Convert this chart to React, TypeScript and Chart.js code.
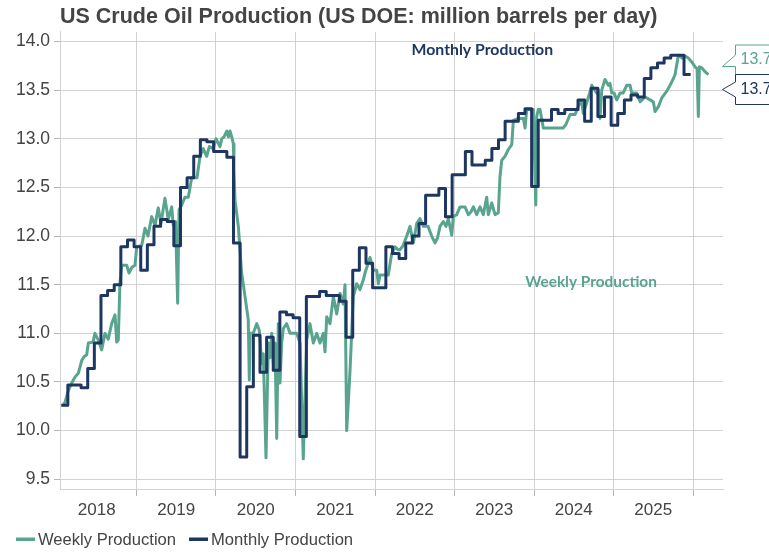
import React, { useEffect, useRef } from "react";
import { Chart, registerables } from "chart.js";

Chart.register(...registerables);

const TITLE = "US Crude Oil Production (US DOE: million barrels per day)";
const WEEKLY_NAME = "Weekly Production";
const MONTHLY_NAME = "Monthly Production";
const GREEN = "#59a48e";
const NAVY = "#1d3762";
const TEXT = "#444444";
const GRID = "#d2d2d2";

// x axis: year boundaries (grid lines) and year labels (centred in each year)
const yearBoundaries = [2019, 2020, 2021, 2022, 2023, 2024, 2025, 2026];
const yearLabels = ["2018", "2019", "2020", "2021", "2022", "2023", "2024", "2025"];
const yTickValues = [9.5, 10.0, 10.5, 11.0, 11.5, 12.0, 12.5, 13.0, 13.5, 14.0];

// Monthly production, Feb 2018 .. Dec 2025 (million b/d)
const monthlyFirstYear = 2018;
const monthlyFirstMonth = 2; // February
const monthlyValues = [
  // 2018 Feb-Dec
  10.26, 10.47, 10.47, 10.44, 10.64, 10.9, 11.39, 11.44, 11.5, 11.89, 11.96,
  // 2019
  11.89, 11.65, 11.91, 12.1, 12.17, 12.15, 11.9, 12.5, 12.6, 12.82, 12.99, 12.97,
  // 2020
  12.87, 12.87, 12.81, 11.93, 9.73, 10.45, 10.98, 10.6, 10.96, 10.62, 11.22, 11.19,
  // 2021
  11.16, 9.94, 11.38, 11.38, 11.43, 11.39, 11.39, 11.33, 10.96, 11.65, 11.88, 11.72,
  // 2022
  11.47, 11.47, 11.89, 11.82, 11.77, 11.93, 12.0, 12.13, 12.42, 12.42, 12.49, 12.2,
  // 2023
  12.63, 12.63, 12.87, 12.73, 12.73, 12.78, 12.9, 12.99, 13.18, 13.18, 13.26, 13.31,
  // 2024
  12.51, 13.19, 13.19, 13.3, 13.26, 13.3, 13.3, 13.4, 13.18, 13.52, 13.23, 13.43,
  // 2025
  13.14, 13.26, 13.4, 13.45, 13.43, 13.62, 13.73, 13.78, 13.83, 13.86, 13.86, 13.66,
];

// Weekly production (dates as decimal years)
const weeklyDates = [
  2018.082, 2018.101, 2018.138, 2018.185, 2018.226, 2018.268, 2018.289, 2018.311, 2018.34, 2018.374,
  2018.394, 2018.453, 2018.478, 2018.52, 2018.562, 2018.604, 2018.645, 2018.688, 2018.73, 2018.751,
  2018.771, 2018.792, 2018.814, 2018.877, 2018.906, 2018.943, 2018.981, 2019.003, 2019.065, 2019.107,
  2019.145, 2019.191, 2019.233, 2019.274, 2019.308, 2019.358, 2019.4, 2019.443, 2019.463, 2019.491,
  2019.518, 2019.535, 2019.569, 2019.61, 2019.652, 2019.694, 2019.761, 2019.799, 2019.84, 2019.883,
  2019.916, 2019.966, 2020.0, 2020.05, 2020.072, 2020.101, 2020.135, 2020.157, 2020.176, 2020.198,
  2020.218, 2020.226, 2020.239, 2020.281, 2020.323, 2020.365, 2020.406, 2020.419, 2020.428, 2020.469,
  2020.512, 2020.545, 2020.575, 2020.595, 2020.629, 2020.658, 2020.679, 2020.701, 2020.721, 2020.742,
  2020.764, 2020.784, 2020.805, 2020.826, 2020.847, 2020.889, 2020.931, 2020.972, 2021.015, 2021.057,
  2021.098, 2021.141, 2021.182, 2021.224, 2021.267, 2021.308, 2021.35, 2021.371, 2021.393, 2021.434,
  2021.476, 2021.518, 2021.56, 2021.601, 2021.623, 2021.644, 2021.686, 2021.727, 2021.77, 2021.811,
  2021.853, 2021.874, 2021.937, 2021.979, 2022.021, 2022.042, 2022.063, 2022.113, 2022.167, 2022.21,
  2022.252, 2022.289, 2022.315, 2022.352, 2022.399, 2022.44, 2022.482, 2022.525, 2022.566, 2022.608,
  2022.667, 2022.713, 2022.755, 2022.786, 2022.818, 2022.859, 2022.893, 2022.922, 2022.965, 2022.985,
  2023.028, 2023.069, 2023.132, 2023.174, 2023.208, 2023.237, 2023.279, 2023.321, 2023.362, 2023.405,
  2023.425, 2023.468, 2023.51, 2023.551, 2023.572, 2023.594, 2023.635, 2023.677, 2023.72, 2023.74,
  2023.803, 2023.866, 2023.887, 2023.908, 2023.991, 2024.022, 2024.034, 2024.054, 2024.076, 2024.117,
  2024.365, 2024.403, 2024.453, 2024.516, 2024.541, 2024.579, 2024.6, 2024.62, 2024.654, 2024.692,
  2024.726, 2024.746, 2024.789, 2024.809, 2024.83, 2024.852, 2024.893, 2024.935, 2024.956, 2024.978,
  2025.007, 2025.041, 2025.082, 2025.12, 2025.166, 2025.208, 2025.229, 2025.292, 2025.334, 2025.397,
  2025.46, 2025.501, 2025.522, 2025.564, 2025.607, 2025.67, 2025.711, 2025.753, 2025.774, 2025.795,
  2025.816, 2025.837, 2025.862, 2025.9, 2025.941, 2025.984, 2026.026, 2026.051, 2026.067, 2026.08,
  2026.11, 2026.151, 2026.193,
];
const weeklyValues = [
  10.27, 10.29, 10.4, 10.49, 10.55, 10.59, 10.65, 10.72, 10.76, 10.78,
  10.9, 10.91, 11.0, 10.93, 10.83, 11.0, 10.94, 11.1, 11.19, 10.91,
  10.93, 11.52, 11.7, 11.7, 11.62, 11.68, 11.7, 11.89, 11.9, 12.08,
  12.0, 12.2, 12.11, 12.29, 12.13, 12.39, 12.17, 12.3, 12.11, 12.15,
  11.31, 12.27, 12.32, 12.4, 12.4, 12.6, 12.6, 12.82, 12.9, 12.82,
  12.92, 12.9, 13.0, 12.92, 13.0, 13.02, 13.08, 13.02, 13.08, 13.02,
  12.95, 12.68, 12.37, 12.1, 11.62, 11.38, 11.14, 10.52, 11.0, 11.0,
  11.1, 11.03, 10.69, 10.79, 9.72, 10.9, 10.75, 11.0, 10.69, 10.9,
  9.92, 11.1, 10.49, 10.9, 11.05, 11.1, 11.0, 11.0, 11.0, 10.9,
  9.71, 10.93, 11.1, 10.9, 11.0, 10.9, 11.0, 10.81, 11.17, 11.1,
  11.38, 11.2, 11.41, 11.3, 11.5, 10.0, 10.62, 11.38, 11.51, 11.45,
  11.55, 11.62, 11.78, 11.65, 11.65, 11.51, 11.6, 11.6, 11.6, 11.82,
  11.89, 11.86, 11.86, 11.9, 12.0, 12.1, 11.93, 12.13, 12.18, 12.1,
  12.1, 12.0, 11.93, 11.98, 12.1, 12.15, 12.1, 12.18, 12.01, 12.2,
  12.22, 12.3, 12.3, 12.22, 12.25, 12.3, 12.22, 12.3, 12.22, 12.4,
  12.22, 12.34, 12.22, 12.24, 12.61, 12.78, 12.82, 12.89, 12.94, 13.19,
  13.21, 13.21, 13.11, 13.3, 13.3, 12.32, 13.23, 13.3, 13.3, 13.11,
  13.11, 13.15, 13.25, 13.25, 13.3, 13.38, 13.38, 13.26, 13.35, 13.45,
  13.55, 13.52, 13.47, 13.5, 13.21, 13.5, 13.61, 13.55, 13.57, 13.47,
  13.47, 13.4, 13.47, 13.47, 13.55, 13.55, 13.47, 13.47, 13.38, 13.43,
  13.4, 13.38, 13.28, 13.33, 13.42, 13.49, 13.55, 13.62, 13.66, 13.76,
  13.86, 13.85, 13.83, 13.85, 13.83, 13.79, 13.74, 13.72, 13.23, 13.74,
  13.73, 13.69, 13.66,
];

// in-plot series labels: [decimal year, value] of the label centre
const monthlyLabelAt = [2023.35, 13.915];
const weeklyLabelAt = [2024.717, 11.528];

// month steps are drawn slightly ahead of the month start, as in the source chart
const MONTH_LEAD = 0.03;

const AXIS_FONT = "Arial, 'Liberation Sans'";

function buildMonthlyPoints() {
  const pts = monthlyValues.map((v, i) => ({
    x: monthlyFirstYear + (monthlyFirstMonth - 1 + i) / 12 - MONTH_LEAD,
    y: v,
  }));
  const n = monthlyValues.length;
  pts.push({
    x: monthlyFirstYear + (monthlyFirstMonth - 1 + n) / 12 - MONTH_LEAD,
    y: monthlyValues[n - 1],
  });
  return pts;
}

const overlayPlugin = {
  id: "overlay",
  afterDatasetsDraw(chart: any) {
    const { ctx } = chart;
    const x = chart.scales.x;
    const y = chart.scales.y;
    ctx.save();
    ctx.textAlign = "center";
    ctx.textBaseline = "middle";
    ctx.font = "bold 15.8px Lato";
    ctx.fillStyle = NAVY;
    ctx.fillText(MONTHLY_NAME, x.getPixelForValue(monthlyLabelAt[0]), y.getPixelForValue(monthlyLabelAt[1]));
    ctx.font = "bold 15.4px Lato";
    ctx.fillStyle = GREEN;
    ctx.fillText(WEEKLY_NAME, x.getPixelForValue(weeklyLabelAt[0]), y.getPixelForValue(weeklyLabelAt[1]));
    ctx.restore();
  },
  afterDraw(chart: any) {
    const { ctx, chartArea } = chart;
    const y = chart.scales.y;
    ctx.save();
    // last-value callouts
    const lastW = weeklyValues[weeklyValues.length - 1];
    const lastM = monthlyValues[monthlyValues.length - 1];
    const b = Math.floor(y.getPixelForValue(lastW)) + 0.5;
    const xL = chartArea.right + 12.5;
    const tipX = chartArea.right - 0.5;
    const far = chart.width + 10;
    ctx.lineWidth = 1;
    // weekly (above)
    ctx.beginPath();
    ctx.moveTo(far, b - 29.5);
    ctx.lineTo(xL, b - 29.5);
    ctx.lineTo(xL, b - 19.5);
    ctx.lineTo(tipX, b - 8);
    ctx.lineTo(xL, b - 8);
    ctx.lineTo(xL, b);
    ctx.lineTo(far, b);
    ctx.closePath();
    ctx.fillStyle = "#ffffff";
    ctx.fill();
    ctx.strokeStyle = GREEN;
    ctx.stroke();
    // monthly (below)
    ctx.beginPath();
    ctx.moveTo(far, b);
    ctx.lineTo(xL, b);
    ctx.lineTo(xL, b + 7.5);
    ctx.lineTo(tipX, b + 15);
    ctx.lineTo(xL, b + 22.5);
    ctx.lineTo(xL, b + 30);
    ctx.lineTo(far, b + 30);
    ctx.closePath();
    ctx.fillStyle = "#ffffff";
    ctx.fill();
    ctx.strokeStyle = NAVY;
    ctx.stroke();
    ctx.font = "16px " + AXIS_FONT;
    ctx.textAlign = "left";
    ctx.textBaseline = "middle";
    ctx.fillStyle = GREEN;
    ctx.fillText(lastW.toFixed(1), xL + 5, b - 14.5);
    ctx.fillStyle = NAVY;
    ctx.fillText(lastM.toFixed(1), xL + 5, b + 15.5);

    // legend
    ctx.font = "16.6px " + AXIS_FONT;
    ctx.textBaseline = "alphabetic";
    let lx = 16;
    const items = [
      [WEEKLY_NAME, GREEN],
      [MONTHLY_NAME, NAVY],
    ];
    for (const [name, col] of items) {
      ctx.fillStyle = col;
      ctx.fillRect(lx, 537.5, 19, 3.5);
      ctx.fillStyle = TEXT;
      ctx.fillText(name, lx + 22, 545);
      lx += 22 + ctx.measureText(name).width + 13;
    }
    ctx.restore();
  },
};

export default function App() {
  const ref = useRef<HTMLCanvasElement | null>(null);

  useEffect(() => {
    if (!ref.current) return;
    const weeklyPoints = weeklyDates.map((d, i) => ({ x: d, y: weeklyValues[i] }));
    const monthlyPoints = buildMonthlyPoints();
    const midYears = yearLabels.map((l) => Number(l) + 0.5);
    const allXTicks = [...yearBoundaries, ...midYears].sort((a, b) => a - b);

    const chart = new Chart(ref.current, {
      type: "line",
      data: {
        datasets: [
          {
            label: MONTHLY_NAME,
            data: monthlyPoints,
            borderColor: NAVY,
            backgroundColor: NAVY,
            borderWidth: 3,
            pointRadius: 0,
            stepped: "before",
            borderJoinStyle: "round",
            order: 0,
          },
          {
            label: WEEKLY_NAME,
            data: weeklyPoints,
            borderColor: GREEN,
            backgroundColor: GREEN,
            borderWidth: 3,
            pointRadius: 0,
            borderJoinStyle: "round",
            order: 1,
          },
        ],
      },
      options: {
        animation: false,
        responsive: false,
        events: [],
        layout: { padding: { left: 0, right: 46, top: 0, bottom: 0 } },
        plugins: {
          legend: { display: false },
          tooltip: { enabled: false },
          title: {
            display: true,
            text: TITLE,
            align: "start",
            fullSize: false,
            color: TEXT,
            font: { family: AXIS_FONT, size: 21.5, weight: "bold" },
            padding: { top: 4, bottom: 2 },
          },
        },
        scales: {
          x: {
            type: "linear",
            min: 2018.038,
            max: 2026.377,
            afterBuildTicks: (scale: any) => {
              scale.ticks = allXTicks.map((v) => ({ value: v }));
            },
            afterFit: (scale: any) => {
              scale.height = 63;
            },
            ticks: {
              autoSkip: false,
              maxRotation: 0,
              minRotation: 0,
              padding: 4,
              color: TEXT,
              font: { family: AXIS_FONT, size: 17 },
              callback: (v: any) => (Number.isInteger(v) ? "" : String(Math.floor(v))),
            },
            grid: {
              color: (c: any) => (c.tick && Number.isInteger(c.tick.value) ? GRID : "rgba(0,0,0,0)"),
              tickColor: (c: any) => (c.tick && Number.isInteger(c.tick.value) ? "#b5b5b5" : "rgba(0,0,0,0)"),
              tickLength: 7,
              lineWidth: 1,
            },
            border: { display: true, color: GRID, width: 1 },
          },
          y: {
            type: "linear",
            min: 9.4,
            max: 14.1,
            afterBuildTicks: (scale: any) => {
              scale.ticks = yTickValues.map((v) => ({ value: v }));
            },
            afterFit: (scale: any) => {
              scale.width = 60;
            },
            ticks: {
              padding: 4,
              color: TEXT,
              font: { family: AXIS_FONT, size: 17.5 },
              callback: (v: any) => Number(v).toFixed(1),
            },
            grid: {
              color: GRID,
              tickColor: "#b5b5b5",
              tickLength: 6,
              lineWidth: 1,
            },
            border: { display: true, color: GRID, width: 1 },
          },
        },
      },
      plugins: [overlayPlugin],
    } as any);

    return () => chart.destroy();
  }, []);

  return (
    <div style={{ position: "fixed", left: 0, top: 0, width: 769, height: 552, background: "#ffffff" }}>
      <canvas ref={ref} width={769} height={552} style={{ display: "block", width: 769, height: 552 }} />
    </div>
  );
}
